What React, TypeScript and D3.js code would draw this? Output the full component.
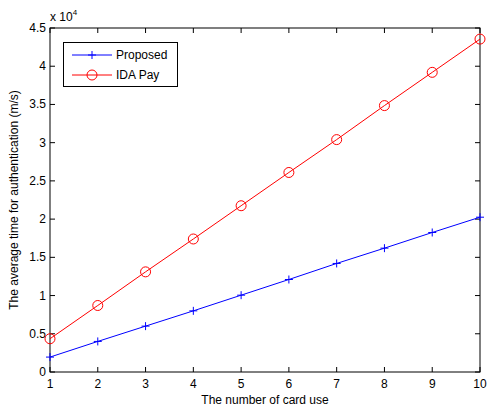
import React from "react";
import * as d3 from "d3";

const xValues = [1, 2, 3, 4, 5, 6, 7, 8, 9, 10];
const proposed = [1950, 4000, 6000, 8000, 10050, 12100, 14200, 16200, 18250, 20250];
const idaPay = [4350, 8700, 13100, 17400, 21750, 26100, 30400, 34850, 39200, 43550];
const xTicks = [1, 2, 3, 4, 5, 6, 7, 8, 9, 10];
const yTicks = [0, 5000, 10000, 15000, 20000, 25000, 30000, 35000, 40000, 45000];

export default function App() {
  const W = 487, H = 408;
  const L = 50, R = 480, T = 28, B = 372;
  const x = d3.scaleLinear().domain([1, 10]).range([L, R]);
  const y = d3.scaleLinear().domain([0, 45000]).range([B, T]);
  const line = d3.line<number>().x((_, i) => x(xValues[i])).y((d) => y(d));
  const font = "'Liberation Sans', Arial, sans-serif";
  const tl = 5;
  return (
    <svg width={W} height={H} style={{ position: "absolute", left: 0, top: 0 }} fontFamily={font}>
      <rect x={0} y={0} width={W} height={H} fill="#fff" />
      <rect x={L} y={T} width={R - L} height={B - T} fill="#fff" stroke="#000" strokeWidth={1} />
      {xTicks.map((t) => (
        <g key={"x" + t}>
          <line x1={x(t)} x2={x(t)} y1={B} y2={B - tl} stroke="#000" />
          <line x1={x(t)} x2={x(t)} y1={T} y2={T + tl} stroke="#000" />
          <text x={x(t)} y={B + 16} fontSize={12} textAnchor="middle">{t}</text>
        </g>
      ))}
      {yTicks.map((t) => (
        <g key={"y" + t}>
          <line x1={L} x2={L + tl} y1={y(t)} y2={y(t)} stroke="#000" />
          <line x1={R} x2={R - tl} y1={y(t)} y2={y(t)} stroke="#000" />
          <text x={L - 4} y={y(t) + 4} fontSize={12} textAnchor="end">{t / 10000}</text>
        </g>
      ))}
      <text x={L} y={21} fontSize={12}>x 10<tspan fontSize={8} dy={-6}>4</tspan></text>
      <text x={(L + R) / 2} y={404} fontSize={12} textAnchor="middle">The number of card use</text>
      <text transform={`translate(18,${(T + B) / 2}) rotate(-90)`} fontSize={12} textAnchor="middle">
        The average time for authentication (m/s)
      </text>
      <path d={line(proposed) || ""} fill="none" stroke="#0000ff" strokeWidth={1} />
      <path d={line(idaPay) || ""} fill="none" stroke="#ff0000" strokeWidth={1} />
      {proposed.map((v, i) => (
        <g key={"p" + i} stroke="#0000ff">
          <line x1={x(xValues[i]) - 4} x2={x(xValues[i]) + 4} y1={y(v)} y2={y(v)} />
          <line x1={x(xValues[i])} x2={x(xValues[i])} y1={y(v) - 4} y2={y(v) + 4} />
        </g>
      ))}
      {idaPay.map((v, i) => (
        <circle key={"i" + i} cx={x(xValues[i])} cy={y(v)} r={5} fill="none" stroke="#ff0000" />
      ))}
      <g>
        <rect x={63.5} y={42.5} width={114} height={44} fill="#fff" stroke="#000" />
        <line x1={72} x2={112} y1={55} y2={55} stroke="#0000ff" />
        <line x1={92} x2={92} y1={51} y2={59} stroke="#0000ff" />
        <line x1={88} x2={96} y1={55} y2={55} stroke="#0000ff" />
        <text x={116} y={59} fontSize={12}>Proposed</text>
        <line x1={72} x2={112} y1={75} y2={75} stroke="#ff0000" />
        <circle cx={92} cy={75} r={5} fill="none" stroke="#ff0000" />
        <text x={116} y={79} fontSize={12}>IDA Pay</text>
      </g>
    </svg>
  );
}
